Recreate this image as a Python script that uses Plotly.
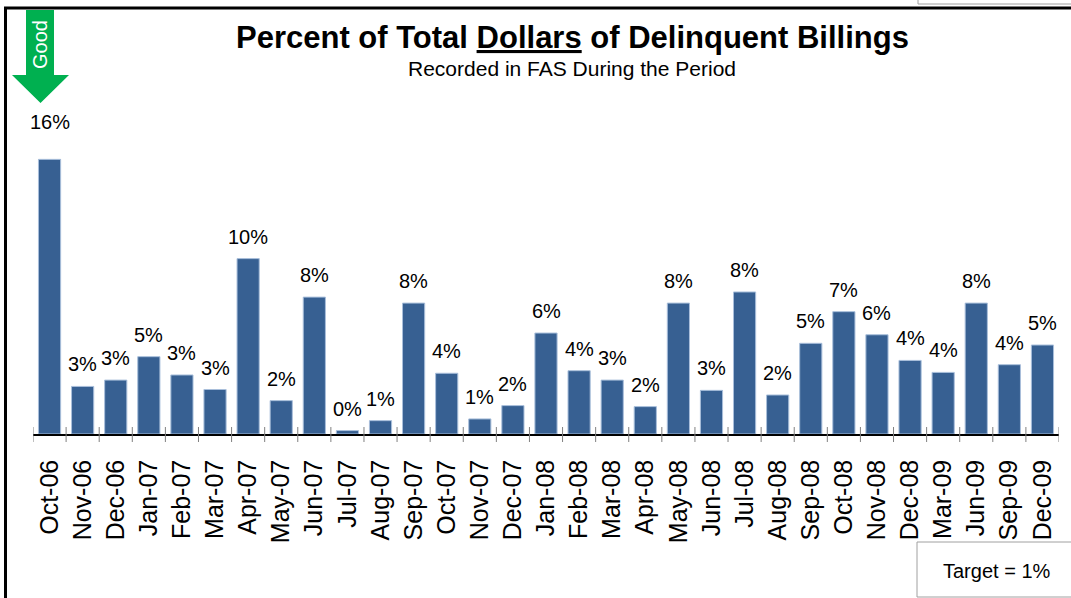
import plotly.graph_objects as go

categories = ["Oct-06", "Nov-06", "Dec-06", "Jan-07", "Feb-07", "Mar-07", "Apr-07", "May-07",
              "Jun-07", "Jul-07", "Aug-07", "Sep-07", "Oct-07", "Nov-07", "Dec-07", "Jan-08",
              "Feb-08", "Mar-08", "Apr-08", "May-08", "Jun-08", "Jul-08", "Aug-08", "Sep-08",
              "Oct-08", "Nov-08", "Dec-08", "Mar-09", "Jun-09", "Sep-09", "Dec-09"]
percent_values = [16.05, 2.78, 3.15, 4.52, 3.45, 2.6, 10.25, 1.95,
                  8.0, 0.2, 0.78, 7.65, 3.55, 0.88, 1.66, 5.9,
                  3.7, 3.15, 1.6, 7.65, 2.55, 8.3, 2.28, 5.3,
                  7.15, 5.8, 4.3, 3.6, 7.65, 4.05, 5.2]
title_text = "Percent of Total <u>Dollars</u> of Delinquent Billings"
subtitle_text = "Recorded in FAS During the Period"
target_text = "Target = 1%"
arrow_text = "Good"

W, H = 1071, 598
L, R, T, B = 33, 12, 126, 164
PW = W - L - R
PH = H - T - B
FONT = "Liberation Sans, Arial, sans-serif"


def px(x):
    return (x - L) / PW


def py(y):
    return (H - B - y) / PH


fig = go.Figure()
fig.add_trace(go.Bar(
    x=categories, y=percent_values,
    marker=dict(color="#376092", line=dict(color="#A9BFDB", width=1)),
    hoverinfo="x+y", showlegend=False,
))

annotations = []
for i, (c, v) in enumerate(zip(categories, percent_values)):
    annotations.append(dict(
        x=c, y=v, xref="x", yref="y", text=f"{round(v)}%", showarrow=False,
        yanchor="bottom", yshift=24 if i == 0 else 9,
        font=dict(family=FONT, size=20, color="#000000"),
    ))

annotations += [
    dict(x=px(572), y=py(37), xref="paper", yref="paper", text=f"<b>{title_text}</b>",
         showarrow=False, xanchor="center", yanchor="middle",
         font=dict(family=FONT, size=31, color="#000000")),
    dict(x=px(572), y=py(69), xref="paper", yref="paper", text=subtitle_text,
         showarrow=False, xanchor="center", yanchor="middle",
         font=dict(family=FONT, size=21, color="#000000")),
    dict(x=px(997), y=py(571), xref="paper", yref="paper", text=target_text,
         showarrow=False, xanchor="center", yanchor="middle",
         font=dict(family=FONT, size=20, color="#000000")),
    dict(x=px(40), y=py(45), xref="paper", yref="paper", text=arrow_text, textangle=-90,
         showarrow=False, xanchor="center", yanchor="middle",
         font=dict(family=FONT, size=20, color="#FFFFFF")),
]

shapes = []
# tick marks crossing the axis at category boundaries
for i in range(len(categories) + 1):
    shapes.append(dict(type="line", xref="x", yref="paper", x0=i - 0.5, x1=i - 0.5,
                       y0=py(442), y1=py(427), line=dict(color="#808080", width=1)))
# Good arrow
pts = [(26, 10), (54, 10), (54, 75), (69, 75), (40.5, 103), (12, 75), (26, 75)]
path = "M " + " L ".join(f"{px(a):.5f},{py(b):.5f}" for a, b in pts) + " Z"
shapes.append(dict(type="path", xref="paper", yref="paper", path=path,
                   fillcolor="#00B050", line=dict(width=0), layer="below"))
# frame lines
shapes.append(dict(type="line", xref="paper", yref="paper", x0=px(5.5), x1=px(5.5),
                   y0=py(7), y1=py(600), line=dict(color="#000000", width=3)))
shapes.append(dict(type="line", xref="paper", yref="paper", x0=px(4), x1=px(1075),
                   y0=py(8), y1=py(8), line=dict(color="#000000", width=3)))
# top-right box remnant
shapes.append(dict(type="rect", xref="paper", yref="paper", x0=px(918), x1=px(1080),
                   y0=py(4), y1=py(-10), line=dict(color="#A0A0A0", width=1),
                   fillcolor="#FFFFFF"))
# target box
shapes.append(dict(type="rect", xref="paper", yref="paper", x0=px(917), x1=px(1080),
                   y0=py(597), y1=py(542), line=dict(color="#A0A0A0", width=1),
                   fillcolor="#FFFFFF", layer="above"))

fig.update_layout(
    width=W, height=H, autosize=False,
    margin=dict(l=L, r=R, t=T, b=B, pad=0),
    paper_bgcolor="#FFFFFF", plot_bgcolor="#FFFFFF",
    bargap=0.33,
    annotations=annotations,
    shapes=shapes,
    xaxis=dict(
        type="category", range=[-0.5, len(categories) - 0.5],
        showline=True, linecolor="#000000", linewidth=1.5,
        ticks="", tickangle=-90, ticklabelstandoff=14,
        tickfont=dict(family=FONT, size=25, color="#000000"),
        showgrid=False, zeroline=False,
    ),
    yaxis=dict(range=[0, 18], visible=False, showgrid=False, zeroline=False),
)

fig.write_html(
    "out.html",
    config={"displayModeBar": False},
    post_script="document.body.style.margin='0';document.body.style.overflow='hidden';",
)
